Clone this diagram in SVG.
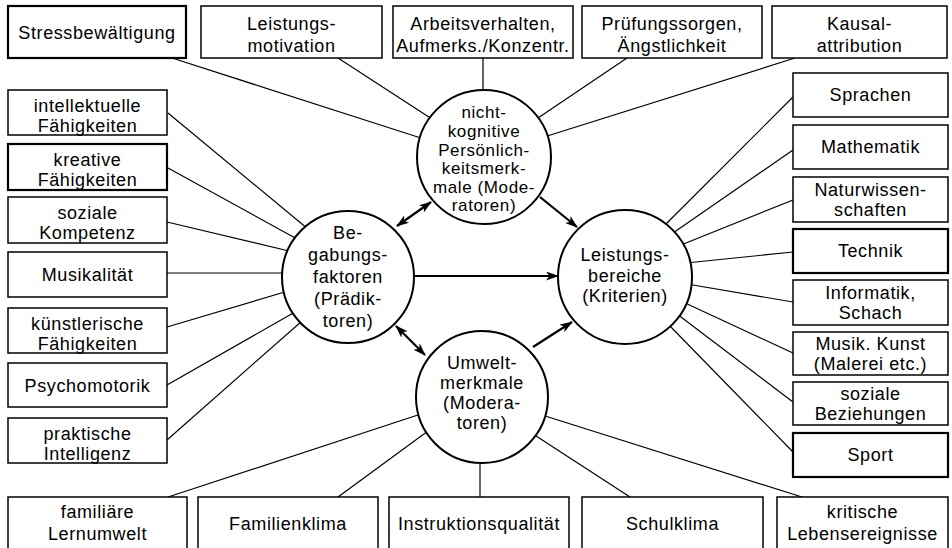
<svg xmlns="http://www.w3.org/2000/svg" width="952" height="548" viewBox="0 0 952 548">
<style>
text{font-family:"Liberation Sans",Arial,sans-serif;font-size:18px;letter-spacing:0.6px;text-anchor:middle;fill:#000}
.tight text{font-size:17px}
.box{fill:#fff;stroke:#000;stroke-width:1.5}
.thick{stroke-width:2.2}
.circ{fill:#fff;stroke:#000;stroke-width:2}
.con line{stroke:#000;stroke-width:1.2}
.arr line{stroke:#000;stroke-width:2.2}
</style>
<defs>
<marker id="ah" viewBox="0 0 13 9" refX="12" refY="4.5" markerWidth="13" markerHeight="9" markerUnits="userSpaceOnUse" orient="auto-start-reverse">
<path d="M0,0 L13,4.5 L0,9 L3.5,4.5 z" fill="#000"/>
</marker>
</defs>
<rect width="952" height="548" fill="#fff"/>
<g id="connectors" class="con">
<line x1="172" y1="58" x2="424" y2="139"/>
<line x1="338" y1="58" x2="435" y2="121"/>
<line x1="483" y1="58" x2="483" y2="96"/>
<line x1="627" y1="58" x2="535" y2="120"/>
<line x1="795" y1="58" x2="544" y2="137"/>
<line x1="168" y1="113" x2="308" y2="229"/>
<line x1="168" y1="168" x2="297" y2="239"/>
<line x1="167" y1="222" x2="289" y2="251"/>
<line x1="167" y1="273" x2="288" y2="273"/>
<line x1="167" y1="327" x2="288" y2="291"/>
<line x1="167" y1="385" x2="295" y2="312"/>
<line x1="167" y1="440" x2="302" y2="321"/>
<line x1="793" y1="97" x2="664" y2="226"/>
<line x1="793" y1="150" x2="673" y2="233"/>
<line x1="793" y1="200" x2="681" y2="245"/>
<line x1="793" y1="252" x2="686" y2="263"/>
<line x1="793" y1="302" x2="687" y2="284"/>
<line x1="793" y1="353" x2="683" y2="302"/>
<line x1="793" y1="402" x2="677" y2="314"/>
<line x1="793" y1="452" x2="668" y2="324"/>
<line x1="168" y1="497" x2="424" y2="413"/>
<line x1="338" y1="497" x2="428" y2="431"/>
<line x1="480" y1="497" x2="480" y2="458"/>
<line x1="630" y1="497" x2="533" y2="434"/>
<line x1="802" y1="497" x2="542" y2="415"/>
</g>
<g id="arrows" class="arr">
<line x1="397" y1="226" x2="431" y2="202" marker-start="url(#ah)" marker-end="url(#ah)"/>
<line x1="396" y1="326" x2="425" y2="355" marker-start="url(#ah)" marker-end="url(#ah)"/>
<line x1="540" y1="197" x2="577" y2="227" marker-end="url(#ah)"/>
<line x1="533" y1="347" x2="572" y2="322" marker-end="url(#ah)"/>
<line x1="414" y1="276" x2="558" y2="276" marker-end="url(#ah)"/>
</g>
<g id="n-nichtkognitiv" class="tight">
<circle class="circ" cx="484" cy="157" r="67"/>
<text x="484" y="118">nicht-</text>
<text x="484" y="137">kognitive</text>
<text x="484" y="156">Persönlich-</text>
<text x="484" y="174">keitsmerk-</text>
<text x="484" y="193">male (Mode-</text>
<text x="484" y="211">ratoren)</text>
</g>
<g id="n-begabung">
<circle class="circ" cx="348" cy="277" r="66"/>
<text x="348" y="239">Be-</text>
<text x="348" y="261">gabungs-</text>
<text x="348" y="283">faktoren</text>
<text x="348" y="305">(Prädik-</text>
<text x="348" y="327">toren)</text>
</g>
<g id="n-leistung">
<circle class="circ" cx="625" cy="277" r="67"/>
<text x="625" y="261">Leistungs-</text>
<text x="625" y="282">bereiche</text>
<text x="625" y="302">(Kriterien)</text>
</g>
<g id="n-umwelt">
<circle class="circ" cx="482" cy="397" r="66"/>
<text x="482" y="369">Umwelt-</text>
<text x="482" y="389">merkmale</text>
<text x="482" y="409">(Modera-</text>
<text x="482" y="429">toren)</text>
</g>
<g id="t-stress"><rect class="box thick" x="8" y="6" width="178" height="52"/><text x="97" y="39">Stressbewältigung</text></g>
<g id="t-motivation"><rect class="box" x="201" y="6" width="181" height="52"/><text x="291.5" y="30">Leistungs-</text><text x="291.5" y="52">motivation</text></g>
<g id="t-arbeit"><rect class="box" x="393" y="6" width="180" height="52"/><text x="483" y="30">Arbeitsverhalten,</text><text x="483" y="52">Aufmerks./Konzentr.</text></g>
<g id="t-pruefung"><rect class="box" x="582" y="6" width="180" height="52"/><text x="672" y="30">Prüfungssorgen,</text><text x="672" y="52">Ängstlichkeit</text></g>
<g id="t-kausal"><rect class="box" x="772" y="6" width="175" height="52"/><text x="859.5" y="30">Kausal-</text><text x="859.5" y="52">attribution</text></g>
<g id="l-intellekt"><rect class="box" x="8" y="90" width="159" height="45"/><text x="87.5" y="112">intellektuelle</text><text x="87.5" y="132">Fähigkeiten</text></g>
<g id="l-kreativ"><rect class="box thick" x="8" y="144" width="159" height="46"/><text x="87.5" y="166">kreative</text><text x="87.5" y="186">Fähigkeiten</text></g>
<g id="l-sozial"><rect class="box" x="8" y="197" width="159" height="46"/><text x="87.5" y="219">soziale</text><text x="87.5" y="239">Kompetenz</text></g>
<g id="l-musikal"><rect class="box" x="8" y="252" width="159" height="45"/><text x="87.5" y="281">Musikalität</text></g>
<g id="l-kuenstl"><rect class="box" x="8" y="308" width="159" height="45"/><text x="87.5" y="330">künstlerische</text><text x="87.5" y="350">Fähigkeiten</text></g>
<g id="l-psycho"><rect class="box" x="8" y="363" width="159" height="44"/><text x="87.5" y="392">Psychomotorik</text></g>
<g id="l-praktisch"><rect class="box" x="8" y="418" width="159" height="45"/><text x="87.5" y="440">praktische</text><text x="87.5" y="460">Intelligenz</text></g>
<g id="r-sprachen"><rect class="box" x="793" y="73" width="155" height="44"/><text x="870.5" y="101">Sprachen</text></g>
<g id="r-mathe"><rect class="box" x="793" y="125" width="155" height="44"/><text x="870.5" y="153">Mathematik</text></g>
<g id="r-natur"><rect class="box" x="793" y="177" width="155" height="45"/><text x="870.5" y="196">Naturwissen-</text><text x="870.5" y="216">schaften</text></g>
<g id="r-technik"><rect class="box thick" x="793" y="229" width="155" height="44"/><text x="870.5" y="257">Technik</text></g>
<g id="r-informatik"><rect class="box" x="793" y="280" width="155" height="45"/><text x="870.5" y="299">Informatik,</text><text x="870.5" y="319">Schach</text></g>
<g id="r-musik"><rect class="box" x="793" y="332" width="155" height="43"/><text x="870.5" y="350">Musik. Kunst</text><text x="870.5" y="370">(Malerei etc.)</text></g>
<g id="r-sozial"><rect class="box" x="793" y="382" width="155" height="43"/><text x="870.5" y="400">soziale</text><text x="870.5" y="420">Beziehungen</text></g>
<g id="r-sport"><rect class="box thick" x="793" y="433" width="155" height="44"/><text x="870.5" y="461">Sport</text></g>
<g id="b-familiaer"><rect class="box" x="8" y="497" width="179" height="60"/><text x="97.5" y="518">familiäre</text><text x="97.5" y="540">Lernumwelt</text></g>
<g id="b-familienklima"><rect class="box" x="198" y="497" width="180" height="60"/><text x="288" y="530">Familienklima</text></g>
<g id="b-instruktion"><rect class="box" x="389" y="497" width="180" height="60"/><text x="479" y="530">Instruktionsqualität</text></g>
<g id="b-schulklima"><rect class="box" x="582" y="497" width="181" height="60"/><text x="672.5" y="530">Schulklima</text></g>
<g id="b-kritisch"><rect class="box" x="777" y="497" width="171" height="60"/><text x="862.5" y="518">kritische</text><text x="862.5" y="540">Lebensereignisse</text></g>
</svg>
